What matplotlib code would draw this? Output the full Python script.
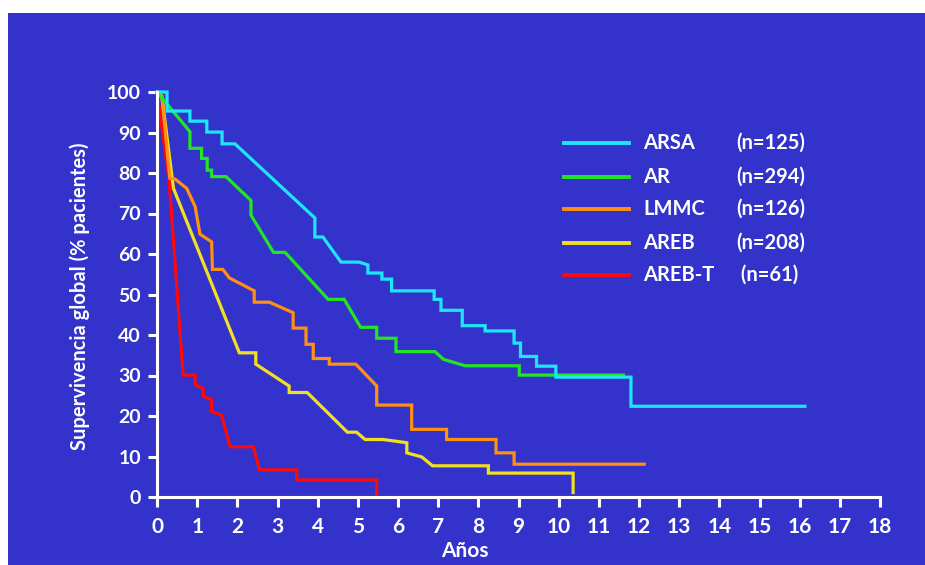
import matplotlib
matplotlib.use("Agg")
import matplotlib.pyplot as plt
from matplotlib.patches import Rectangle

plt.rcParams['font.family'] = ['Lato', 'DejaVu Sans']
plt.rcParams['font.weight'] = 'bold'

BG = '#3333CC'

# Kaplan-Meier curves (years, % survival)
arsa_t = [0, 0.25, 0.25, 0.82, 0.82, 1.24, 1.24, 1.62, 1.62, 1.94, 3.93, 3.93, 4.13, 4.58,
          5.03, 5.25, 5.25, 5.60, 5.60, 5.84, 5.84, 6.90, 6.90, 7.07, 7.07, 7.60, 7.60, 8.17,
          8.17, 8.89, 8.89, 9.05, 9.05, 9.45, 9.45, 9.93, 9.93, 11.80, 11.80, 16.13]
arsa_s = [100, 100, 95.3, 95.3, 92.8, 92.8, 90.1, 90.1, 87.2, 87.2, 68.9, 64.2, 64.2, 58.0,
          58.0, 57.3, 55.3, 55.3, 53.8, 53.8, 50.9, 50.9, 48.8, 48.8, 46.1, 46.1, 42.3, 42.3,
          41.0, 41.0, 38.0, 38.0, 34.7, 34.7, 32.3, 32.3, 29.6, 29.6, 22.4, 22.4]

ar_t = [0, 0.82, 0.82, 1.11, 1.11, 1.25, 1.25, 1.36, 1.36, 1.72, 2.34, 2.34, 2.90, 3.19,
        4.26, 4.66, 5.07, 5.47, 5.47, 5.95, 5.95, 6.92, 7.13, 7.67, 9.02, 9.02, 11.61]
ar_s = [100, 90.2, 86.1, 86.1, 83.6, 83.6, 80.7, 80.7, 79.1, 79.1, 73.2, 69.6, 60.4, 60.4,
        48.8, 48.8, 41.9, 41.9, 39.2, 39.2, 35.9, 35.9, 34.0, 32.4, 32.4, 30.1, 30.1]

lmmc_t = [0, 0.12, 0.32, 0.45, 0.74, 0.95, 1.07, 1.36, 1.38, 1.64, 1.80, 2.42, 2.42, 2.80,
          3.39, 3.39, 3.71, 3.71, 3.89, 3.89, 4.29, 4.29, 4.95, 5.47, 5.47, 6.34, 6.34, 7.21,
          7.21, 8.44, 8.44, 8.89, 8.89, 12.13]
lmmc_s = [100, 99, 78.7, 78.5, 76.2, 71.7, 64.9, 63.0, 56.2, 56.2, 54.1, 50.9, 48.1, 48.1,
          45.5, 41.7, 41.7, 37.7, 37.7, 34.2, 34.2, 32.8, 32.8, 27.4, 22.7, 22.7, 16.7, 16.7,
          14.2, 14.2, 10.9, 10.9, 8.1, 8.1]

areb_t = [0, 0.12, 0.41, 2.05, 2.46, 2.46, 3.29, 3.29, 3.74, 4.74, 4.97, 5.18, 5.63, 6.22,
          6.22, 6.59, 6.86, 8.25, 8.25, 10.36, 10.36]
areb_s = [100, 99, 76.2, 35.6, 35.6, 32.8, 27.4, 25.8, 25.8, 16.0, 16.0, 14.2, 14.2, 13.4,
          10.9, 9.9, 7.7, 7.7, 5.9, 5.9, 1.1]

arebt_t = [0, 0.3, 0.65, 0.95, 0.95, 1.15, 1.15, 1.36, 1.36, 1.61, 1.82, 2.40, 2.55, 3.48,
           3.48, 5.47, 5.47]
arebt_s = [100, 78.5, 30.1, 30.1, 27.7, 26.8, 24.8, 24.1, 21.1, 20.2, 12.4, 12.4, 6.7, 6.7,
           4.2, 4.2, 0.5]

names = ['ARSA', 'AR', 'LMMC', 'AREB', 'AREB-T']
counts = ['(n=125)', '(n=294)', '(n=126)', '(n=208)', ' (n=61)']
colors = ['#1EE6FA', '#22E622', '#FF9010', '#F2E020', '#FF0808']
curves = [(arsa_t, arsa_s), (ar_t, ar_s), (lmmc_t, lmmc_s), (areb_t, areb_s), (arebt_t, arebt_s)]

W, H = 925, 565
fig = plt.figure(figsize=(W / 100, H / 100), dpi=100, facecolor='white')
fig.patches.append(Rectangle((8 / W, 0), 1 - 8 / W, (H - 13) / H, transform=fig.transFigure,
                             facecolor=BG, edgecolor='none', zorder=-5))

ax = fig.add_axes([157 / W, 1 - 497 / H, (880 - 157) / W, (497 - 92) / H])
ax.patch.set_alpha(0)

# draw the later series first so cyan ends on top
for (t, s), c in reversed(list(zip(curves, colors))):
    ax.plot(t, s, color=c, lw=2.3, clip_on=False, solid_joinstyle='miter')

ax.set_xlim(0, 18)
ax.set_ylim(0, 100)
ax.set_xticks(range(0, 19))
ax.set_yticks(range(0, 101, 10))
for side in ['top', 'right']:
    ax.spines[side].set_visible(False)
for side in ['left', 'bottom']:
    ax.spines[side].set_color('white')
    ax.spines[side].set_linewidth(2.2)
ax.tick_params(axis='x', colors='white', width=2.2, length=7.5, pad=7, labelsize=15)
ax.tick_params(axis='y', colors='white', width=2.2, length=6.5, pad=5, labelsize=14)
for lab in ax.get_xticklabels() + ax.get_yticklabels():
    lab.set_fontweight('bold')

fig.text(465 / W, 1 - 551 / H, 'Años', color='white', fontsize=15, fontweight='bold',
         ha='center', va='center')
fig.text(80 / W, 1 - 296 / H, 'Supervivencia global (% pacientes)', color='white',
         fontsize=14.5, fontweight='bold', rotation=90, ha='center', va='center')

# legend drawn by hand
leg_y = [143, 177, 209, 243, 275]
for name, n, c, y in zip(names, counts, colors, leg_y):
    fy = 1 - y / H
    fig.add_artist(plt.Line2D([564 / W, 629 / W], [fy, fy], color=c, lw=2.8,
                              transform=fig.transFigure))
    fig.text(643 / W, fy, name, color='white', fontsize=14.5, fontweight='bold', va='center')
    fig.text(736 / W, fy, n, color='white', fontsize=14.5, fontweight='bold', va='center')

fig.savefig('out.png', dpi=100, facecolor='white')
